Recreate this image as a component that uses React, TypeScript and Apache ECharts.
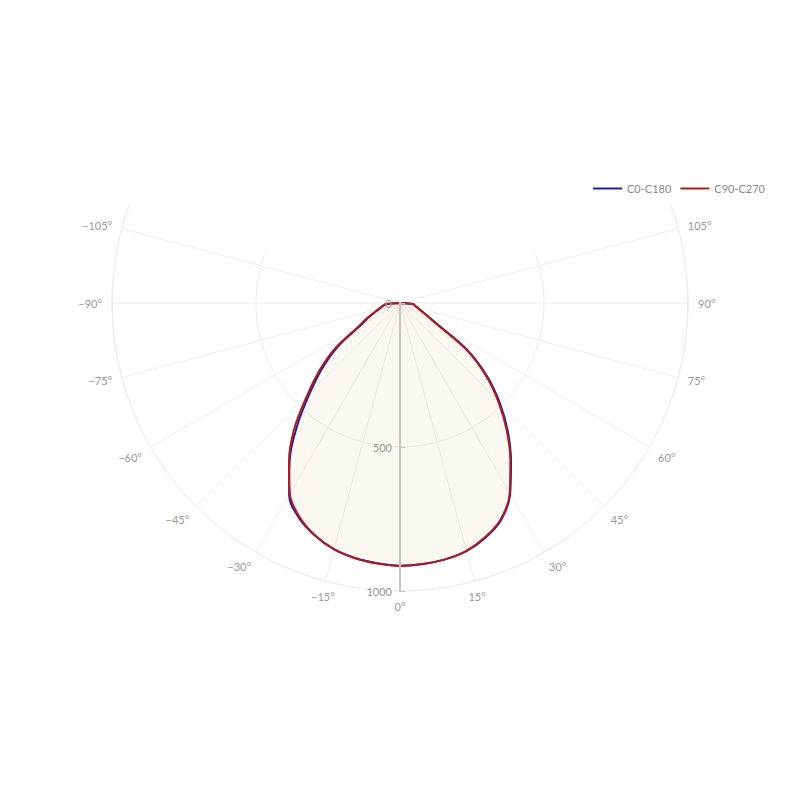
import React, { useEffect, useRef } from 'react';
import * as echarts from 'echarts';

const ANGLES = [-90, -85, -80, -75, -70, -65, -60, -55, -50, -45, -40, -35, -30, -25, -20, -15, -10, -5, 0,
  5, 10, 15, 20, 25, 30, 35, 40, 45, 50, 55, 60, 65, 70, 75, 80, 85, 90];

const C0_C180 = [0, 50, 60, 72, 92, 122, 162, 262, 352, 443, 555, 668, 770, 826, 860, 885, 899, 907, 912,
  910, 904, 892, 867, 831, 765, 672, 583, 490, 394, 287, 156, 106, 79, 64, 53, 48, 0];

const C90_C270 = [0, 52, 62, 75, 96, 128, 172, 276, 366, 458, 572, 672, 765, 822, 860, 886, 900, 908, 913,
  910, 904, 891, 865, 828, 762, 668, 576, 482, 386, 278, 148, 102, 76, 62, 52, 47, 0];

const ANGLE_TICKS = [-105, -90, -75, -60, -45, -30, -15, 0, 15, 30, 45, 60, 75, 90, 105];
const SERIES_NAMES = ['C0-C180', 'C90-C270'];
const SERIES_COLORS = ['#2020a0', '#b01c1c'];

export default function App() {
  const ref = useRef<HTMLDivElement>(null);
  useEffect(() => {
    document.body.style.margin = '0';
    const chart = echarts.init(ref.current!, null, { renderer: 'svg' });
    const toPairs = (vals: number[]) => vals.map((v, i) => [v, ANGLES[i]]);
    const grid = '#ebebeb';
    const axisGray = '#c8c4bc';
    chart.setOption({
      animation: false,
      textStyle: { fontFamily: 'Lato, sans-serif' },
      legend: {
        data: SERIES_NAMES,
        icon: 'rect',
        top: 178,
        right: 30,
        itemWidth: 29,
        itemHeight: 2,
        itemGap: 9,
        textStyle: { color: '#8a8a8a', fontSize: 11 },
      },
      polar: [
        { center: [400, 303], radius: 288 },
        { center: [400, 303], radius: 288 },
      ],
      angleAxis: [
        {
          polarIndex: 0,
          type: 'value',
          min: -110,
          max: 110,
          startAngle: 160,
          endAngle: 380,
          clockwise: false,
          axisLine: { show: true, lineStyle: { color: grid } },
          axisTick: { show: false, customValues: ANGLE_TICKS },
          axisLabel: {
            customValues: ANGLE_TICKS,
            color: '#999',
            fontSize: 11,
            margin: 10,
            formatter: (v: number) => (v < 0 ? '\u2212' + -v : '' + v) + '°',
          },
          splitLine: { show: true, lineStyle: { color: grid } },
        },
        {
          polarIndex: 1,
          type: 'value',
          min: 0,
          max: 360,
          startAngle: 270,
          clockwise: false,
          show: false,
          axisLine: { show: false },
          axisTick: { show: false },
          axisLabel: { show: false },
          splitLine: { show: false },
        },
      ],
      radiusAxis: [
        {
          polarIndex: 0,
          type: 'value',
          min: 0,
          max: 1000,
          interval: 500,
          axisLine: { show: false },
          axisTick: { show: false },
          axisLabel: { show: false },
          splitLine: { show: true, lineStyle: { color: grid } },
        },
        {
          polarIndex: 1,
          type: 'value',
          min: 0,
          max: 1000,
          interval: 500,
          z: 5,
          axisLine: { show: true, lineStyle: { color: axisGray, width: 2 } },
          axisTick: { show: true, length: 5, lineStyle: { color: axisGray } },
          axisLabel: {
            color: '#999',
            fontSize: 11,
            margin: -8,
            align: 'right',
            verticalAlign: 'middle',
            formatter: (v: number) => String(v),
          },
          splitLine: { show: false },
        },
      ],
      series: [
        {
          type: 'line',
          name: 'fill',
          coordinateSystem: 'polar',
          polarIndex: 0,
          data: toPairs(C90_C270),
          smooth: 0.35,
          symbol: 'none',
          silent: true,
          lineStyle: { width: 0 },
          areaStyle: { color: 'rgba(225,205,160,0.2)' },
          z: 1,
        },
        {
          type: 'line',
          name: SERIES_NAMES[0],
          coordinateSystem: 'polar',
          polarIndex: 0,
          data: toPairs(C0_C180),
          smooth: 0.35,
          symbol: 'none',
          lineStyle: { color: SERIES_COLORS[0], width: 2 },
          itemStyle: { color: SERIES_COLORS[0] },
          z: 3,
        },
        {
          type: 'line',
          name: SERIES_NAMES[1],
          coordinateSystem: 'polar',
          polarIndex: 0,
          data: toPairs(C90_C270),
          smooth: 0.35,
          symbol: 'none',
          lineStyle: { color: SERIES_COLORS[1], width: 2 },
          itemStyle: { color: SERIES_COLORS[1] },
          z: 4,
        },
      ],
    });
    return () => chart.dispose();
  }, []);
  return <div ref={ref} style={{ width: 800, height: 800 }} />;
}
